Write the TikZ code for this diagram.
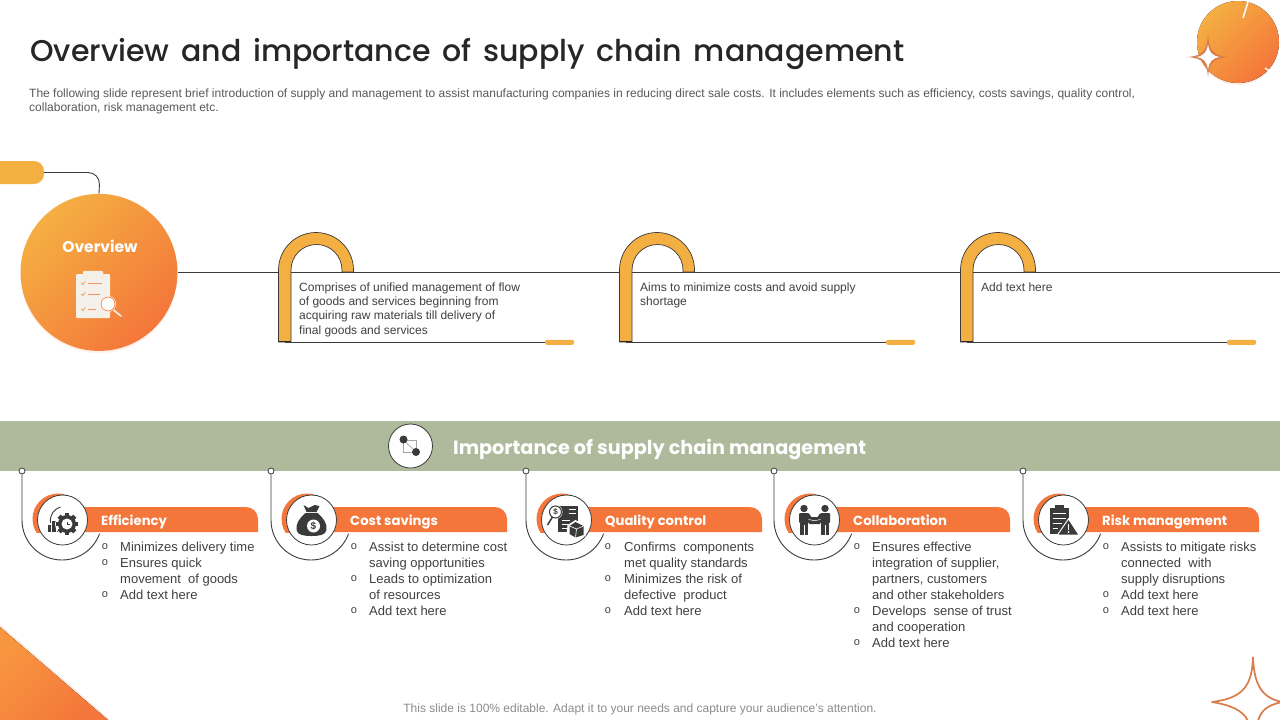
\documentclass[tikz,border=0pt]{standalone}
\usepackage{fontspec}
\setmainfont{Liberation Sans}
\newfontfamily\headfont{Poppins}
\newfontfamily\titlefont{Poppins Medium}
\definecolor{amberc}{HTML}{F4AF42}
\definecolor{orangec}{HTML}{F4763A}
\definecolor{wedgec}{HTML}{F89640}
\definecolor{sagec}{HTML}{AFB99B}
\definecolor{inkc}{HTML}{3A3A3A}
\definecolor{textc}{HTML}{404040}
\definecolor{descc}{HTML}{595959}
\definecolor{starc}{HTML}{D97B4A}
\definecolor{paperc}{HTML}{F3F1EA}
\tikzset{
  x=1pt,y=-1pt,
  thinline/.style={draw=inkc,line width=0.9pt},
  hookshape/.style={fill=amberc,draw=inkc,line width=0.7pt},
  hooktext/.style={anchor=north west,inner sep=0pt,align=left,text=textc,font=\fontsize{12}{14.3}\selectfont},
  listtext/.style={anchor=north west,inner sep=0pt,align=left,text=textc,font=\fontsize{13}{16}\selectfont},
  bulletmark/.style={inner sep=0pt,text=textc,font=\fontsize{11}{11}\selectfont},
  cardtitle/.style={anchor=base west,inner sep=0pt,text=white,font=\headfont\bfseries\fontsize{13.2}{18}\selectfont},
  pillmark/.style={fill=amberc,rounded corners=2pt},
  gradfill/.style={top color=amberc,bottom color=orangec,shading angle=45},
  dotnode/.style={circle,draw=inkc,fill=white,line width=0.8pt,minimum size=6pt,inner sep=0pt},
}
% #1 name, #2 x offset, #3 title, #4 list, #5 icon drawing
\newcommand{\supplycard}[5]{
  \begin{scope}[shift={(#2,0)}]
    \fill[orangec] (40,507) -- (224,507) arc[start angle=-90,end angle=0,radius=12] -- (236,532) -- (40,532) -- cycle;
    \begin{scope}
      \clip (0,480) rectangle (60,532);
      \fill[orangec] (36,519) circle[radius=25.5];
    \end{scope}
    \node[circle,draw=inkc,fill=white,line width=0.8pt,minimum size=50pt,inner sep=0pt] (#1c) at (40.5,520) {};
    \node[dotnode] (#1d) at (0,471) {};
    \draw[thinline] (#1d) -- (0,520) arc[start angle=180,end angle=20,radius=40];
    \node[cardtitle] (#1t) at (79,525) {#3};
    \node[listtext] (#1l) at (98,541.5) {#4};
    \begin{scope}[shift={(40.5,520)}]
      #5
    \end{scope}
  \end{scope}
}
\begin{document}
\begin{tikzpicture}
\useasboundingbox (0,0) rectangle (1280,720);
\fill[white] (0,0) rectangle (1280,720);

% title and description
\node[anchor=base west,inner sep=0pt,text=black!85,font=\titlefont\fontsize{30}{38}\selectfont] (title) at (30,61) {Overview\hspace{4pt} and\hspace{4pt} importance\hspace{4pt} of\hspace{4pt} supply\hspace{4pt} chain\hspace{4pt} management};
\node[anchor=north west,inner sep=0pt,align=left,text=descc,font=\fontsize{12}{14.5}\selectfont] (desc) at (29,88.5) {The following slide represent brief introduction of supply and management to assist manufacturing companies in reducing direct sale costs. It includes elements such as efficiency, costs savings, quality control,\\collaboration, risk management etc.};

% top right decoration
\fill[orangec!12] (1238,44) circle[radius=41];
\fill[gradfill] (1238,42) circle[radius=41];
\draw[white,line width=1.5pt] (1248,2) -- (1243,18);
\draw[white,line width=1.5pt] (1265,68) -- (1271,72);
\path[fill=starc] (1208,33) .. controls (1209,50) and (1212,56) .. (1229,57) .. controls (1212,58) and (1209,64) .. (1208,77) .. controls (1207,64) and (1204,58) .. (1187,57) .. controls (1204,56) and (1207,50) .. (1208,33) -- cycle;
\path[fill=white] (1208,44) .. controls (1209,52) and (1212,56) .. (1220,57) .. controls (1212,58) and (1209,62) .. (1208,70) .. controls (1207,62) and (1204,58) .. (1196,57) .. controls (1204,56) and (1207,52) .. (1208,44) -- cycle;

% bottom decorations
\draw[orangec!15,line width=2pt] (0,626) -- (108,719);
\fill[top color=wedgec,bottom color=orangec,shading angle=45] (0,627) -- (108,720) -- (0,720) -- cycle;
\draw[starc,line width=1.7pt,line join=round] (1253,657) .. controls (1254,685) and (1262,698) .. (1282,702);
\draw[starc,line width=1.7pt,line join=round] (1253,657) .. controls (1252,685) and (1244,698) .. (1212,702) .. controls (1230,705) and (1243,710) .. (1248,721);
\draw[starc,line width=1.7pt] (1282,702) .. controls (1268,705) and (1261,710) .. (1258,721);

% overview
\coordinate (pillanchor) at (44,172.5);
\fill[amberc,rounded corners=10pt] (-14,161) rectangle (44,184);
\fill[orangec!12] (99,274.5) circle[radius=78.5];
\node[circle,minimum size=157pt,inner sep=0pt,gradfill] (ov) at (99,272.4) {};
\draw[thinline,rounded corners=12pt] (pillanchor) -- (100,172.5) -- (ov.north);
\node[anchor=base,inner sep=0pt,text=white,font=\headfont\bfseries\fontsize{15.5}{20}\selectfont] (ovt) at (100,252.5) {Overview};
% clipboard icon
\fill[paperc,rounded corners=1pt] (76,274) rectangle (110,318);
\fill[paperc,draw=amberc!40,line width=0.4pt,rounded corners=1pt] (83,271) rectangle (103,277);
\foreach \yy/\xx in {283/102,294/100,309/96}{
  \draw[orangec!80,line width=0.7pt] (81,\yy) -- (83,\yy+1.5) -- (85,\yy-1.5);
  \draw[orangec!80,line width=0.7pt] (88,\yy) -- (\xx,\yy);
}
\fill[white] (108,304) circle[radius=8];
\draw[orangec!90,line width=0.8pt] (108,304) circle[radius=7];
\draw[orangec!90,line width=3pt,line cap=round] (113.5,310) -- (121,316);
\draw[paperc,line width=1.6pt,line cap=round] (113.5,310) -- (121,316);

% main line and hooks
\coordinate (lineend) at (1280,272.4);
\draw[thinline] (ov.east) -- (lineend);
\foreach \dx/\nm in {0/a,341/b,682/c}{
  \begin{scope}[shift={(\dx,0)}]
    \coordinate (low\nm) at (285,342.3);
    \node[pillmark,minimum width=29pt,minimum height=5pt,inner sep=0pt] (pill\nm) at (559.5,342.3) {};
    \draw[thinline] (low\nm) -- (pill\nm.west);
    \path[hookshape] (278.5,342) -- (278.5,270) arc[start angle=180,end angle=360,radius=37.5] -- (353.5,272) -- (342,272) -- (342,270) arc[start angle=0,end angle=-180,radius=25.5] -- (291,342) -- cycle;
    \draw[inkc!70!black,line width=1.8pt] (278.5,341.5) -- (291,341.5);
  \end{scope}
}
\node[hooktext] (hta) at (299,282.5) {Comprises of unified management of flow\\of goods and services beginning from\\acquiring raw materials till delivery of\\final goods and services};
\node[hooktext] (htb) at (640,282.5) {Aims to minimize costs and avoid supply\\shortage};
\node[hooktext] (htc) at (981,282.5) {Add text here};

% band
\fill[sagec] (0,421) rectangle (1280,471);
\node[circle,draw=inkc,fill=white,line width=0.8pt,minimum size=44pt,inner sep=0pt] (bandc) at (410.5,446) {};
\draw[black!35,line width=0.7pt] (403.5,440) rectangle (416,452);
\draw[black!35,line width=0.7pt] (403.5,440) -- (416,452);
\fill[inkc] (403.5,439.5) circle[radius=4];
\fill[inkc] (416,452) circle[radius=4];
\node[anchor=base west,inner sep=0pt,text=white,font=\headfont\bfseries\fontsize{19.2}{26}\selectfont] (bandt) at (453,454.5) {Importance of supply chain management};

% cards
\supplycard{eff}{22}{Efficiency}{Minimizes delivery time\\Ensures quick\\movement\ \ of goods\\Add text here}{
  \fill[inkc] (-15,5) rectangle (-11.5,11.7);
  \fill[inkc] (-10.5,1) rectangle (-7,11.7);
  \fill[inkc] (-6,-3) rectangle (-2.5,11.7);
  \draw[inkc,line width=0.9pt] (-2,-13) .. controls (-8,-11) and (-13,-6) .. (-12,3);
  \fill[white] (4.5,4) circle[radius=12];
  \foreach \a in {0,45,...,315}{\fill[inkc,rotate around={\a:(4.5,4)}] (2.3,-7) rectangle (6.7,-3);}
  \fill[inkc] (4.5,4) circle[radius=9];
  \fill[white] (4.5,4) circle[radius=5.5];
  \draw[inkc,line width=0.5pt] (4.5,1.5) -- (4.5,4) -- (7,4);
}
\supplycard{cost}{271}{Cost savings}{Assist to determine cost\\saving opportunities\\Leads to optimization\\of resources\\Add text here}{
  \fill[inkc] (-6,-7) .. controls (-12,-2) and (-16,4) .. (-15,10) .. controls (-14,15) and (-8,16) .. (0,16) .. controls (8,16) and (14,15) .. (15,10) .. controls (16,4) and (12,-2) .. (6,-7) -- cycle;
  \fill[inkc] (-8,-15) -- (-3,-12) -- (3,-15) -- (8,-14) -- (5,-8) -- (-5,-8) -- cycle;
  \fill[white] (2,6) circle[radius=6.5];
  \node[inner sep=0pt,text=inkc,font=\bfseries\fontsize{10}{10}\selectfont] at (2,6) {\$};
}
\supplycard{qual}{526}{Quality control}{Confirms\ \ components\\met quality standards\\Minimizes the risk of\\defective\ \ product\\Add text here}{
  \fill[inkc] (-9,-14) rectangle (11,12);
  \fill[white] (-11,-8) circle[radius=7];
  \draw[inkc,line width=1pt] (-11,-8) circle[radius=6];
  \node[inner sep=0pt,text=inkc,font=\bfseries\fontsize{8}{8}\selectfont] at (-11,-8) {\$};
  \draw[inkc,line width=1.5pt] (-14,-3) -- (-19,5);
  \draw[white,line width=0.8pt] (2,-11) -- (9,-11) (2,-7) -- (9,-7) (-5,0) -- (3,0) (-5,4) -- (1,4) (-5,8) -- (1,8);
  \fill[white] (1,5) -- (9,0) -- (19,5) -- (19,16) -- (9,19) -- (0,15) -- cycle;
  \fill[inkc] (3,6) -- (9,2) -- (17,6) -- (17,15) -- (9,17.5) -- (3,14) -- cycle;
  \draw[white,line width=0.6pt] (3,6) -- (10,9) -- (17,6) (10,9) -- (9,17.5);
}
\supplycard{coll}{774}{Collaboration}{Ensures effective\\integration of supplier,\\partners,\ customers\\and other stakeholders\\Develops\ \ sense of trust\\and cooperation\\Add text here}{
  \foreach \s in {-1,1}{
    \begin{scope}[xscale=\s]
      \fill[inkc] (10.5,-11.5) circle[radius=3.7];
      \fill[inkc,rounded corners=1pt] (5.5,-7) rectangle (15.5,3);
      \fill[inkc] (6.5,3) rectangle (14.5,15);
      \draw[white,line width=0.7pt] (10.5,5) -- (10.5,15);
      \fill[inkc] (5,-6) -- (7,-4) -- (4,1) -- (2,-1) -- cycle;
    \end{scope}
  }
  \fill[inkc,rounded corners=1pt] (-6,-3) rectangle (6,4);
  \draw[white,line width=0.5pt] (-6,-0.5) -- (-1,0.5) -- (1,0.5) -- (6,-0.5);
}
\supplycard{risk}{1023}{Risk management}{Assists to mitigate risks\\connected\ \ with\\supply disruptions\\Add text here\\Add text here}{
  \fill[inkc] (-14,-12) rectangle (5,14);
  \fill[inkc] (-9,-15) rectangle (0,-10);
  \draw[white,line width=0.5pt] (-11,-7) -- (2,-7) (-11,-2) -- (2,-2) (-11,3) -- (-2,3) (-11,8) -- (-6,8);
  \fill[white] (-7,15.5) -- (5,-2) -- (16,15.5) -- cycle;
  \fill[inkc] (-5,14.5) -- (5,0) -- (14.5,14.5) -- cycle;
  \fill[white] (4.2,4) rectangle (5.8,10);
  \fill[white] (5,12) circle[radius=1];
}

% bullets
\foreach \px/\ys in {105/{547,563,595},354/{547,579,611},608/{547,579,611},857/{547,611,643},1106/{547,595,611}}{
  \foreach \yy in \ys {
    \node[bulletmark] at (\px,\yy) {o};
  }
}

% footer
\node[inner sep=0pt,text=black!45,font=\fontsize{12}{14}\selectfont] (foot) at (640,709) {This slide is 100\% editable. Adapt it to your needs and capture your audience's attention.};
\end{tikzpicture}
\end{document}
